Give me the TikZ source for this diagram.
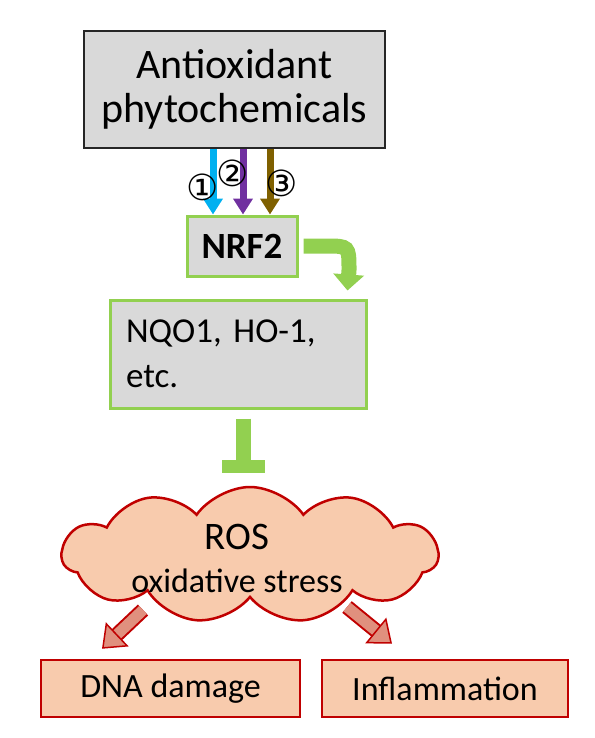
\documentclass[tikz,border=0pt]{standalone}
\usepackage{fontspec}
\setmainfont{Carlito}
\newfontfamily\circfont{DejaVu Sans}
\usetikzlibrary{shapes,arrows.meta,positioning}
\definecolor{boxgray}{HTML}{D9D9D9}
\definecolor{leafgreen}{HTML}{92D050}
\definecolor{darkred}{HTML}{C00000}
\definecolor{peach}{HTML}{F8CBAD}
\definecolor{harmred}{HTML}{E0907E}
\definecolor{skyblue}{HTML}{00B0F0}
\definecolor{plum}{HTML}{7030A0}
\definecolor{olivebrown}{HTML}{7F6000}
\tikzset{
  src/.style = {draw=black!85, fill=boxgray, line width=2.5pt, rectangle, minimum width=301pt, minimum height=117pt, align=center, font=\fontsize{42}{44}\selectfont},
  gv/.style = {draw=leafgreen, fill=boxgray, line width=3pt, rectangle},
  rv/.style = {draw=darkred, fill=peach, line width=2.5pt, rectangle, minimum height=57pt, font=\fontsize{34}{40}\selectfont},
  cloudy/.style = {cloud, cloud puffs=11, cloud puff arc=110, aspect=2.7, draw=darkred, fill=peach, line width=2.5pt, minimum width=376pt, minimum height=136pt, inner sep=0pt},
  num/.style = {font=\circfont\fontsize{36}{36}\selectfont, inner sep=0pt},
  path arrow/.style = {line width=7pt, -{Triangle[length=16pt,width=19pt]}},
  big arrow/.style = {leafgreen, line width=15pt, -{Triangle[length=16pt,width=30pt]}},
  block/.style = {leafgreen, line width=15pt},
  harm/.style = {harmred, line width=11pt, -{Triangle[length=21pt,width=33pt,fill=harmred,color=darkred,line width=1.5pt]},
    preaction={draw=darkred, line width=15pt, -, shorten >=12pt}}
}
\begin{document}
\begin{tikzpicture}[x=1pt,y=-1pt]
  \useasboundingbox (0,0) rectangle (594,738);
  \node[src] (phyto) at (234.5,89.5) {Antioxidant\\phytochemicals};
  \node[gv, minimum width=110pt, minimum height=60pt, font=\bfseries\fontsize{37}{40}\selectfont] (nrf) at (242,246) {NRF2};
  \node[gv, minimum width=256pt, minimum height=108pt, text width=224pt, inner xsep=16pt, align=left, font=\fontsize{35}{45}\selectfont] (targets) at (238,354) {NQO1, HO-1,\\etc.};
  \node[cloudy] (ros) at (250,555) {};
  \node[align=center, font=\fontsize{34}{43}\selectfont] (rostext) at (237,558) {{\fontsize{39}{43}\selectfont ROS}\\oxidative stress};
  \node[rv, minimum width=259pt] (dna) at (170.5,688.5) {DNA damage};
  \node[rv, minimum width=246pt] (infl) at (445,688.5) {Inflammation};

  % three routes into NRF2
  \draw[path arrow, skyblue] ([xshift=-21.5pt]phyto.south) -- ([xshift=-29pt]nrf.north);
  \draw[path arrow, plum] ([xshift=8.5pt]phyto.south) -- ([xshift=1pt]nrf.north);
  \draw[path arrow, olivebrown] ([xshift=35.5pt]phyto.south) -- ([xshift=28pt]nrf.north);
  \node[num] (n1) at (203,187) {①};
  \node[num] (n2) at (233,173) {②};
  \node[num] (n3) at (282,183) {③};

  \draw[big arrow] ([xshift=5pt]nrf.east) -- ++(22,0) .. controls +(23.5,0) and +(0,-24) .. ++(23.5,24) -- ([shift={(109.5,-8)}]targets.north);

  % inhibition of ROS
  \draw[block] ([shift={(5.5,9)}]targets.south) -- ++(0,48) coordinate (tfoot);
  \draw[block, line width=13pt] ([xshift=-21.5pt]tfoot) -- ([xshift=21.5pt]tfoot);

  \draw[harm] ([shift={(-107,55)}]ros.center) -- ([shift={(-68.5,-10)}]dna.north);
  \draw[harm] ([shift={(97,52)}]ros.center) -- ([shift={(-53,-15)}]infl.north);
\end{tikzpicture}
\end{document}
